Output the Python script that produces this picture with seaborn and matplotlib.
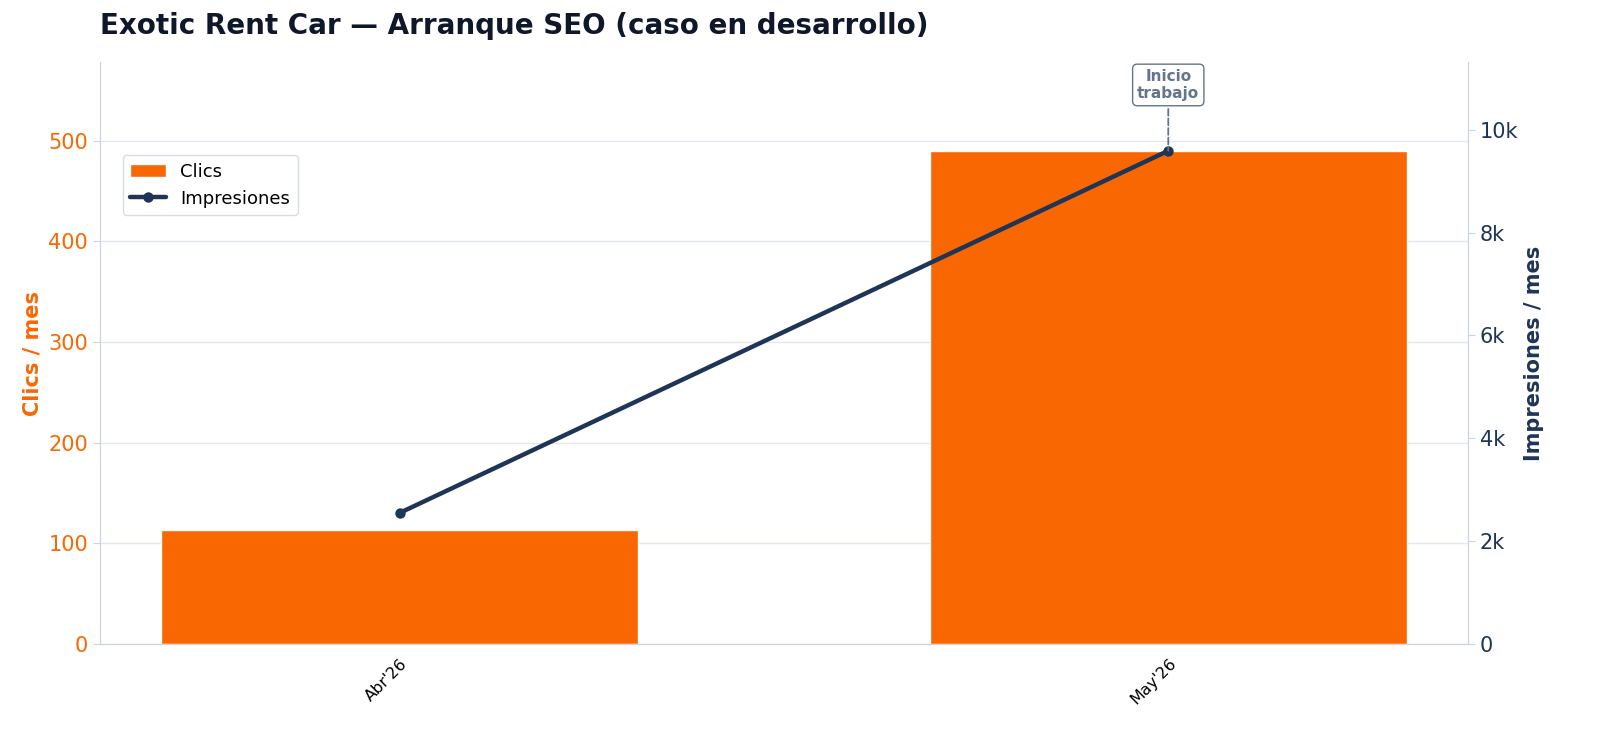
import matplotlib
matplotlib.use("Agg")
import matplotlib.pyplot as plt
import seaborn as sns
import numpy as np
import pandas as pd

meses = ["Abr'26", "May'26"]
clics = [113, 490]
impresiones = [2550, 9590]

naranja = "#f96702"
azul = "#1e3557"
gris = "#64748b"

sns.set_style("white")
plt.rcParams["font.family"] = ["DejaVu Sans"]

df = pd.DataFrame({"mes": meses, "clics": clics, "impresiones": impresiones})

fig = plt.figure(figsize=(16, 7.46), dpi=100)
ax = fig.add_axes([0.0625, 0.1367, 0.855, 0.7802])

sns.barplot(data=df, x="mes", y="clics", color=naranja, saturation=1,
            width=0.62, ax=ax, label="Clics", zorder=2)
ax2 = ax.twinx()
sns.lineplot(x=np.arange(len(meses)), y=impresiones, color=azul, lw=3.2,
             marker="o", markersize=7.5, markeredgewidth=0, ax=ax2,
             label="Impresiones", zorder=3)

ax.set_xlim(-0.39, 1.39)
ax.set_ylim(0, max(clics) * 1.18)
ax2.set_ylim(0, max(impresiones) * 1.18)
ax.set_yticks([0, 100, 200, 300, 400, 500])
ax2.set_yticks([0, 2000, 4000, 6000, 8000, 10000])
ax2.set_yticklabels(["0", "2k", "4k", "6k", "8k", "10k"])

ax.grid(axis="y", color="#e2e8f0", lw=1, zorder=0)
ax.set_axisbelow(True)
ax.set_xlabel("")
ax.set_ylabel("Clics / mes", color=naranja, fontsize=15, fontweight="bold")
ax2.set_ylabel("Impresiones / mes", color=azul, fontsize=15, fontweight="bold")
ax.tick_params(axis="y", colors=naranja, labelsize=15, length=5, color="#cbd5e1")
ax2.tick_params(axis="y", colors=azul, labelsize=15, length=5, color="#cbd5e1")
ax.tick_params(axis="x", labelsize=11.5, length=5, color="black", labelcolor="black")
plt.setp(ax.get_xticklabels(), rotation=45, ha="right", rotation_mode="anchor")

for a in (ax, ax2):
    a.spines["top"].set_visible(False)
    for s in ("left", "bottom", "right"):
        a.spines[s].set_color("#cbd5e1")
ax2.grid(False)

ax2.annotate("Inicio\ntrabajo", xy=(1, impresiones[1]), xytext=(1, 10870),
             ha="center", va="center", fontsize=11, fontweight="bold", color=gris,
             bbox=dict(boxstyle="round,pad=0.3", fc="white", ec=gris, lw=1),
             arrowprops=dict(arrowstyle="-", ls="--", color=gris, lw=1.3, shrinkB=0))

h1, l1 = ax.get_legend_handles_labels()
h2, l2 = ax2.get_legend_handles_labels()
if ax2.get_legend():
    ax2.get_legend().remove()
leg = ax.legend(h1 + h2, l1 + l2, loc="upper left", bbox_to_anchor=(0.01, 0.855),
                fontsize=13, frameon=True, edgecolor="#cbd5e1", fancybox=True)
for t in leg.get_texts():
    t.set_color("black")

ax.set_title("Exotic Rent Car — Arranque SEO (caso en desarrollo)", loc="left",
             fontsize=20, fontweight="bold", color="#0f172a", pad=20)

fig.savefig("out.png", dpi=100)
